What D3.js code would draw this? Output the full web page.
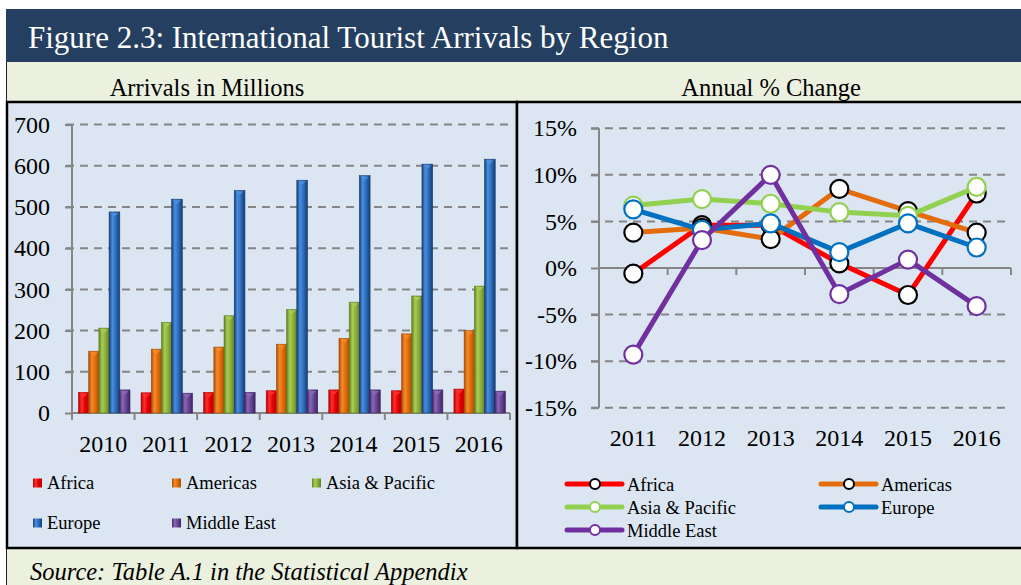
<!DOCTYPE html>
<html>
<head>
<meta charset="utf-8">
<script src="https://cdn.jsdelivr.net/npm/d3@7"></script>
<style>
  body { margin: 0; background: #fff; }
  text { font-family: "Liberation Serif", "DejaVu Serif", serif; fill: #000; }
</style>
</head>
<body>
<div id="chart"></div>
<script>
// data
let years = ["2010", "2011", "2012", "2013", "2014", "2015", "2016"];
let changeYears = ["2011", "2012", "2013", "2014", "2015", "2016"];
let regions = ["Africa", "Americas", "Asia & Pacific", "Europe", "Middle East"];

let africa      = [50, 49, 50, 54, 56, 54, 58];
let americas    = [150, 155, 160, 167, 181, 192, 200];
let asiaPacific = [206, 220, 236, 251, 269, 284, 308];
let europe      = [488, 519, 540, 565, 576, 604, 616];
let middleEast  = [56, 48, 50, 56, 56, 56, 53];

let africaPct      = [-0.006, 0.046, 0.046, 0.005, -0.029, 0.080];
let americasPct    = [0.038, 0.043, 0.031, 0.085, 0.061, 0.038];
let asiaPacificPct = [0.067, 0.074, 0.069, 0.060, 0.056, 0.087];
let europePct      = [0.063, 0.041, 0.048, 0.017, 0.048, 0.022];
let middleEastPct  = [-0.093, 0.030, 0.100, -0.028, 0.009, -0.041];

let leftTicks = [0, 100, 200, 300, 400, 500, 600, 700];
let rightTicks = [-0.15, -0.10, -0.05, 0, 0.05, 0.10, 0.15];

let barSeries = [africa, americas, asiaPacific, europe, middleEast];
let pctSeries = [africaPct, americasPct, asiaPacificPct, europePct, middleEastPct];

// colours
let barBase  = ["#e80000", "#e36c0a", "#8db13b", "#2e6fc0", "#6a4796"];
let barLight = ["#ff3030", "#f48a2c", "#a8cc55", "#4a8ee0", "#8a68b6"];
let barDark  = ["#b00000", "#a54d05", "#5f7f22", "#173e70", "#3e2460"];
let lineCol  = ["#ff0000", "#e46c0a", "#92d050", "#0070c0", "#7030a0"];
let markCol  = ["#000000", "#000000", "#92d050", "#0070c0", "#7030a0"];

let W = 1021, H = 585;
let svg = d3.select("#chart").append("svg")
  .attr("width", W).attr("height", H)
  .attr("viewBox", [0, 0, W, H].join(" "));

// gradients for the bars
let defs = svg.append("defs");
barBase.forEach(function(c, i) {
  let g = defs.append("linearGradient").attr("id", "bg" + i)
    .attr("x1", "0%").attr("x2", "100%").attr("y1", "0%").attr("y2", "0%");
  g.append("stop").attr("offset", "0%").attr("stop-color", barDark[i]);
  g.append("stop").attr("offset", "30%").attr("stop-color", barLight[i]);
  g.append("stop").attr("offset", "60%").attr("stop-color", barBase[i]);
  g.append("stop").attr("offset", "100%").attr("stop-color", barDark[i]);
});

// frame
svg.append("rect").attr("x", 6).attr("y", 9).attr("width", W).attr("height", 53).attr("fill", "#243f60");
svg.append("text").attr("x", 28).attr("y", 48).style("fill", "#fff")
  .style("font-size", "31px").text("Figure 2.3: International Tourist Arrivals by Region");
svg.append("rect").attr("x", 6).attr("y", 62).attr("width", W).attr("height", 40).attr("fill", "#ebf1de");
svg.append("rect").attr("x", 6).attr("y", 548).attr("width", W).attr("height", 40).attr("fill", "#ebf1de");
svg.append("line").attr("x1", 6.5).attr("x2", 6.5).attr("y1", 62).attr("y2", 585).attr("stroke", "#222").attr("stroke-width", 1);

svg.append("text").attr("x", 207).attr("y", 96).attr("text-anchor", "middle")
  .style("font-size", "24.5px").text("Arrivals in Millions");
svg.append("text").attr("x", 771).attr("y", 96).attr("text-anchor", "middle")
  .style("font-size", "24.5px").text("Annual % Change");
svg.append("text").attr("x", 30).attr("y", 580).style("font-style", "italic")
  .style("font-size", "24.5px").text("Source: Table A.1 in the Statistical Appendix");

svg.append("rect").attr("x", 7).attr("y", 102).attr("width", 510).attr("height", 446)
  .attr("fill", "#dce6f2").attr("stroke", "#000").attr("stroke-width", 2.5);
svg.append("rect").attr("x", 517).attr("y", 102).attr("width", 520).attr("height", 446)
  .attr("fill", "#dce6f2").attr("stroke", "#000").attr("stroke-width", 2.5);

// ---------- left chart: bars ----------
let x0 = d3.scaleBand().domain(years).range([72, 510]);
let x1 = d3.scaleBand().domain(regions).range([6.5, 57.5]).paddingInner(0);
let yL = d3.scaleLinear().domain([0, 700]).range([413, 124.6]);

let left = svg.append("g");

// grid
left.selectAll(".gridL").data(leftTicks.filter(d => d > 0)).enter().append("line")
  .attr("x1", 66).attr("x2", 510)
  .attr("y1", d => yL(d)).attr("y2", d => yL(d))
  .attr("stroke", "#858585").attr("stroke-width", 2).attr("stroke-dasharray", "8,6");

let yAxisL = left.append("g").attr("transform", "translate(72,0)")
  .call(d3.axisLeft(yL).tickValues(leftTicks).tickSize(7).tickPadding(15).tickFormat(d3.format("d")));
yAxisL.selectAll("path, line").attr("stroke", "#868686").attr("stroke-width", 2);
yAxisL.selectAll("text").style("font-size", "24px").attr("font-family", null);
yAxisL.select(".domain").attr("d", "M0,124.6V420");

let xAxisL = left.append("g").attr("transform", "translate(0,413)")
  .call(d3.axisBottom(x0).tickSize(0).tickPadding(22));
xAxisL.select(".domain").attr("stroke", "#868686").attr("stroke-width", 2).attr("d", "M72,0H510");
xAxisL.selectAll("text").style("font-size", "24px").attr("font-family", null);
left.selectAll(".tickL").data(years.concat(["end"])).enter().append("line")
  .attr("x1", (d, i) => 72 + i * x0.step()).attr("x2", (d, i) => 72 + i * x0.step())
  .attr("y1", 413).attr("y2", 420)
  .attr("stroke", "#868686").attr("stroke-width", 2);

let groups = left.selectAll(".yr").data(years).enter().append("g")
  .attr("transform", d => "translate(" + x0(d) + ",0)");
groups.selectAll("rect").data((d, i) => barSeries.map((s, k) => ({k: k, v: s[i]}))).enter()
  .append("rect")
  .attr("x", d => x1(regions[d.k]))
  .attr("y", d => yL(d.v))
  .attr("width", x1.bandwidth() + 0.5)
  .attr("height", d => yL(0) - yL(d.v))
  .attr("fill", d => "url(#bg" + d.k + ")")
  .attr("stroke", d => barDark[d.k]).attr("stroke-width", 0.6);
// little bevel cap on top of each bar
groups.selectAll("path").data((d, i) => barSeries.map((s, k) => ({k: k, v: s[i]}))).enter()
  .append("path")
  .attr("d", function(d) {
    let bx = x1(regions[d.k]), bw = x1.bandwidth(), by = yL(d.v);
    return "M" + (bx + 1) + "," + (by + 1) + "H" + (bx + bw - 1) + "L" + (bx + bw / 2) + "," + (by + 5) + "Z";
  })
  .attr("fill", d => barLight[d.k]).attr("opacity", 0.9);

// left legend
let legL = left.append("g");
let legLPos = [[33, 483], [172, 483], [312, 483], [33, 523], [172, 523]];
regions.forEach(function(r, i) {
  let g = legL.append("g").attr("transform", "translate(" + legLPos[i][0] + "," + legLPos[i][1] + ")");
  g.append("rect").attr("x", 0).attr("y", -4.5).attr("width", 9).attr("height", 9)
    .attr("fill", "url(#bg" + i + ")");
  g.append("text").attr("x", 14).attr("y", 6).style("font-size", "18.5px").text(r);
});

// ---------- right chart: lines ----------
let xR = d3.scaleBand().domain(changeYears).range([599, 1011]);
let yR = d3.scaleLinear().domain([-0.15, 0.15]).range([407.7, 128.3]);
let right = svg.append("g");

right.selectAll(".gridR").data(rightTicks.filter(d => d !== 0)).enter().append("line")
  .attr("x1", 591).attr("x2", 1011)
  .attr("y1", d => yR(d)).attr("y2", d => yR(d))
  .attr("stroke", "#858585").attr("stroke-width", 2).attr("stroke-dasharray", "8,6");

let yAxisR = right.append("g").attr("transform", "translate(599,0)")
  .call(d3.axisLeft(yR).tickValues(rightTicks).tickSize(8).tickPadding(14)
    .tickFormat(d => Math.round(d * 100) + "%"));
yAxisR.selectAll("path, line").attr("stroke", "#868686").attr("stroke-width", 2);
yAxisR.selectAll("text").style("font-size", "24px").attr("font-family", null);
yAxisR.select(".domain").attr("d", "M0,128.3V407.7");

let xAxisR = right.append("g").attr("transform", "translate(0," + yR(0) + ")")
  .call(d3.axisBottom(xR).tickSize(0).tickPadding(0).tickFormat(""));
xAxisR.select(".domain").attr("stroke", "#868686").attr("stroke-width", 2).attr("d", "M599,0H1011");
right.selectAll(".tickR").data(changeYears).enter().append("line")
  .attr("x1", d => xR(d) + xR.step()).attr("x2", d => xR(d) + xR.step())
  .attr("y1", yR(0)).attr("y2", yR(0) + 7)
  .attr("stroke", "#868686").attr("stroke-width", 2);
right.selectAll(".xlabR").data(changeYears).enter().append("text")
  .attr("x", d => xR(d) + xR.bandwidth() / 2).attr("y", 446)
  .attr("text-anchor", "middle").style("font-size", "24px").text(d => d);

let line = d3.line().x((d, i) => xR(changeYears[i]) + xR.bandwidth() / 2).y(d => yR(d));
pctSeries.forEach(function(s, k) {
  let g = right.append("g");
  g.append("path").attr("d", line(s)).attr("fill", "none")
    .attr("stroke", lineCol[k]).attr("stroke-width", 5).attr("stroke-linejoin", "round");
  g.selectAll("circle").data(s).enter().append("circle")
    .attr("cx", (d, i) => xR(changeYears[i]) + xR.bandwidth() / 2)
    .attr("cy", d => yR(d)).attr("r", 9)
    .attr("fill", "#fff").attr("stroke", markCol[k]).attr("stroke-width", 2.2);
});

// right legend
let legRPos = [[567, 484], [821, 484], [567, 507], [821, 507], [567, 530]];
regions.forEach(function(r, k) {
  let g = right.append("g").attr("transform", "translate(" + legRPos[k][0] + "," + legRPos[k][1] + ")");
  g.append("line").attr("x1", 0).attr("x2", 55).attr("y1", 0).attr("y2", 0)
    .attr("stroke", lineCol[k]).attr("stroke-width", 5).attr("stroke-linecap", "round");
  g.append("circle").attr("cx", 28).attr("cy", 0).attr("r", 5)
    .attr("fill", "#fff").attr("stroke", markCol[k]).attr("stroke-width", 2);
  g.append("text").attr("x", 60).attr("y", 7).style("font-size", "18.5px").text(r);
});
</script>
</body>
</html>
